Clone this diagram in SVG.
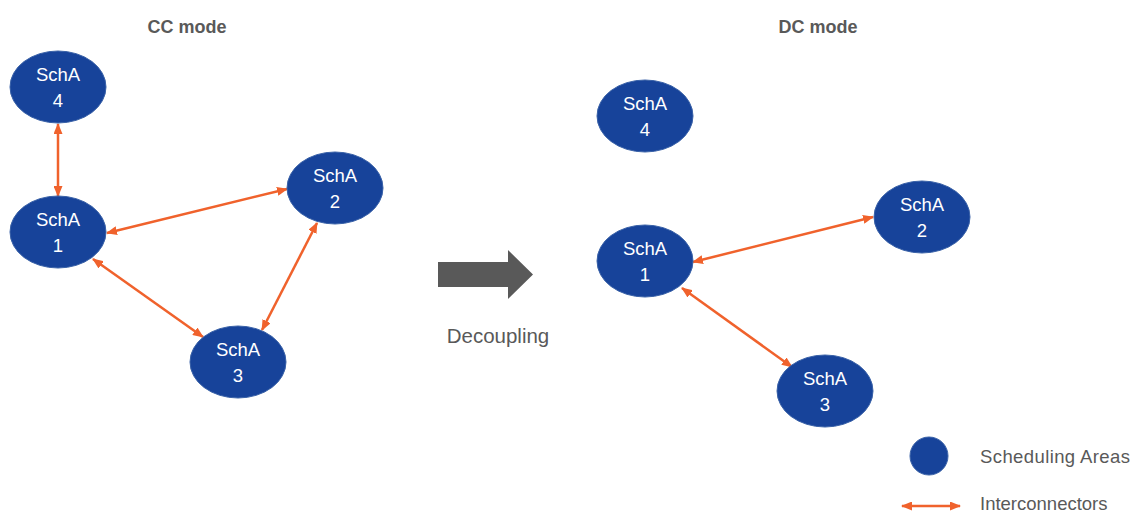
<svg xmlns="http://www.w3.org/2000/svg" width="1133" height="513" viewBox="0 0 1133 513">
<style>
.node ellipse{fill:#17439a;stroke:#3a62a8;stroke-width:1}
.node text{fill:#fff;font-family:"Liberation Sans",Arial,sans-serif;font-size:18.5px;text-anchor:middle}
.conn line{stroke:#f0622c;stroke-width:2.5;marker-start:url(#ah);marker-end:url(#ah)}
.title{font-family:"Liberation Sans",Arial,sans-serif;font-size:18px;font-weight:bold;fill:#595959;text-anchor:middle}
.lbl{font-family:"Liberation Sans",Arial,sans-serif;font-size:18.5px;fill:#595959}
</style>
<defs>
<marker id="ah" markerUnits="userSpaceOnUse" markerWidth="11" markerHeight="9" refX="10" refY="4.5" orient="auto-start-reverse" viewBox="0 0 11 9">
<path d="M0,0 L11,4.5 L0,9 z" fill="#f0622c"/>
</marker>
</defs>
<rect width="1133" height="513" fill="#fff"/>
<text class="title" x="187" y="33">CC mode</text>
<text class="title" x="818" y="33">DC mode</text>

<g id="connectors" class="conn">
<line x1="58" y1="124" x2="58" y2="196"/>
<line x1="107" y1="233" x2="287" y2="189"/>
<line x1="93" y1="259" x2="203" y2="337"/>
<line x1="317" y1="223" x2="262" y2="330"/>
<line x1="693" y1="262" x2="873" y2="217"/>
<line x1="682" y1="288" x2="792" y2="367"/>
</g>

<g id="L4" class="node"><ellipse cx="58" cy="87" rx="48" ry="36"/><text x="58" y="81">SchA</text><text x="58" y="107">4</text></g>
<g id="L1" class="node"><ellipse cx="58" cy="232" rx="48" ry="36"/><text x="58" y="226">SchA</text><text x="58" y="252">1</text></g>
<g id="L2" class="node"><ellipse cx="335" cy="188" rx="48" ry="36"/><text x="335" y="182">SchA</text><text x="335" y="208">2</text></g>
<g id="L3" class="node"><ellipse cx="238" cy="362" rx="48" ry="36"/><text x="238" y="356">SchA</text><text x="238" y="382">3</text></g>

<g id="R4" class="node"><ellipse cx="645" cy="116" rx="48" ry="36"/><text x="645" y="110">SchA</text><text x="645" y="136">4</text></g>
<g id="R1" class="node"><ellipse cx="645" cy="261" rx="48" ry="36"/><text x="645" y="255">SchA</text><text x="645" y="281">1</text></g>
<g id="R2" class="node"><ellipse cx="922" cy="217" rx="48" ry="36"/><text x="922" y="211">SchA</text><text x="922" y="237">2</text></g>
<g id="R3" class="node"><ellipse cx="825" cy="391" rx="48" ry="36"/><text x="825" y="385">SchA</text><text x="825" y="411">3</text></g>

<g id="decouple">
<path d="M438,262 L508,262 L508,250 L533,274.5 L508,299 L508,287 L438,287 z" fill="#595959"/>
<text class="lbl" x="498" y="343" text-anchor="middle" style="font-size:20.5px">Decoupling</text>
</g>

<g id="legend">
<circle cx="929" cy="456" r="19" fill="#17439a" stroke="#3a62a8" stroke-width="1"/>
<text class="lbl" x="980" y="463" textLength="150">Scheduling Areas</text>
<line x1="902" y1="506" x2="960" y2="506" stroke="#f0622c" stroke-width="2.5" marker-start="url(#ah)" marker-end="url(#ah)"/>
<text class="lbl" x="980" y="510">Interconnectors</text>
</g>
</svg>
